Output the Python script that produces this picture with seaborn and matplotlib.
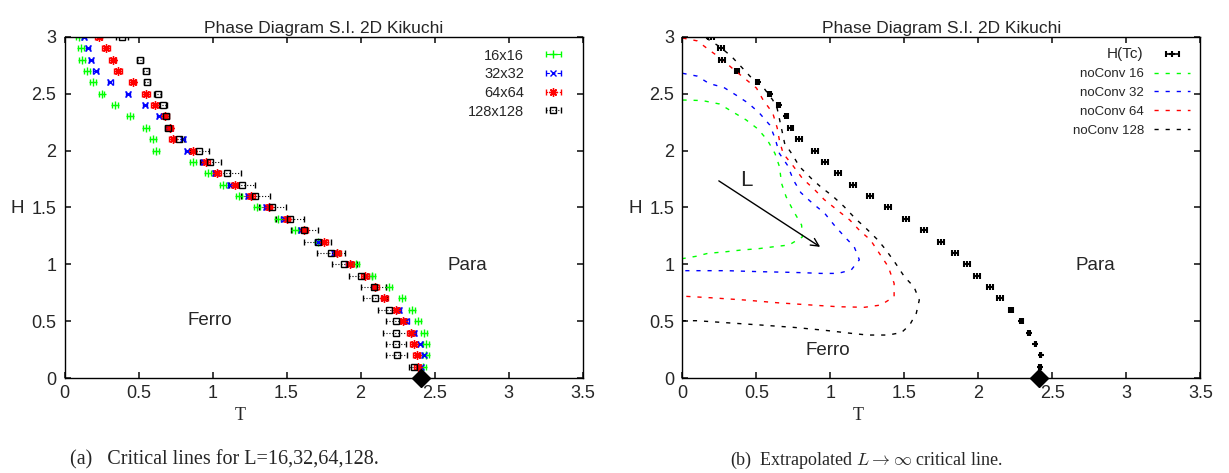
import numpy as np
import seaborn as sns
import matplotlib.pyplot as plt

# Campos H donde se han medido los puntos criticos (de 3.0 a 0.1)
H = [3.0, 2.9, 2.8, 2.7, 2.6, 2.5, 2.4, 2.3, 2.2, 2.1, 2.0, 1.9, 1.8, 1.7, 1.6,
     1.5, 1.4, 1.3, 1.2, 1.1, 1.0, 0.9, 0.8, 0.7, 0.6, 0.5, 0.4, 0.3, 0.2, 0.1]

# Panel (a): temperatura critica para cada tamano de red
tc_16 = [0.10, 0.11, 0.12, 0.15, 0.19, 0.25, 0.34, 0.44, 0.55, 0.60, 0.62, 0.865,
         0.97, 1.07, 1.18, 1.30, 1.44, 1.56, 1.71, 1.84, 1.97, 2.08, 2.19, 2.28,
         2.35, 2.39, 2.43, 2.44, 2.44, 2.42]
tc_32 = [0.13, 0.16, 0.18, 0.21, 0.31, 0.43, 0.545, 0.64, 0.71, 0.80, 0.83, 0.94,
         1.02, 1.12, 1.24, 1.36, 1.48, 1.60, 1.71, 1.82, 1.92, 2.03, 2.09, 2.16,
         2.26, 2.31, 2.36, 2.40, 2.43, 2.41]
tc_64 = [0.23, 0.28, 0.325, 0.36, 0.46, 0.55, 0.61, 0.68, 0.71, 0.73, 0.865, 0.955,
         1.03, 1.15, 1.26, 1.38, 1.50, 1.62, 1.755, 1.84, 1.93, 2.03, 2.10, 2.16,
         2.24, 2.29, 2.34, 2.36, 2.38, 2.385]
tc_128 = [0.39, np.nan, 0.51, 0.55, 0.56, 0.63, 0.665, 0.685, 0.70, 0.775, 0.91,
          0.985, 1.10, 1.20, 1.29, 1.405, 1.525, 1.62, 1.71, 1.80, 1.89, 2.00, 2.09,
          2.10, 2.19, 2.24, 2.24, 2.24, 2.245, 2.36]
err_16 = 0.02
err_32 = 0.015
err_64 = 0.025
err_128 = [0.04, np.nan, 0.02, 0.02, 0.02, 0.025, 0.025, 0.02, 0.02, 0.035, 0.065,
           0.07, 0.09, 0.09, 0.095, 0.09, 0.095, 0.09, 0.09, 0.095, 0.085, 0.08,
           0.085, 0.08, 0.07, 0.07, 0.085, 0.07, 0.07, 0.03]

# Panel (b): linea critica extrapolada H(Tc)
tc_inf = [0.19, 0.26, 0.27, 0.37, 0.51, 0.59, 0.65, 0.70, 0.73, 0.79, 0.895, 0.965,
          1.05, 1.155, 1.27, 1.39, 1.51, 1.63, 1.745, 1.84, 1.92, 1.99, 2.075, 2.145,
          2.22, 2.29, 2.34, 2.385, 2.42, 2.415]
err_inf = [0.02, 0.02, 0.02, 0.015, 0.01, 0.01, 0.01, 0.01, 0.015, 0.02, 0.02, 0.02,
           0.02, 0.02, 0.02, 0.02, 0.02, 0.02, 0.02, 0.02, 0.02, 0.02, 0.02, 0.02,
           0.015, 0.01, 0.005, 0.005, 0.005, 0.005]

# Lineas de no convergencia (T, H)
nc16_T = [0.0, 0.135, 0.25, 0.34, 0.43, 0.51, 0.575, 0.625, 0.655, 0.67, 0.70, 0.745,
          0.805, 0.81, 0.72, 0.62, 0.51, 0.40, 0.29, 0.17, 0.09, 0.0]
nc16_H = [2.445, 2.44, 2.41, 2.34, 2.27, 2.19, 2.09, 1.975, 1.86, 1.71, 1.595, 1.48,
          1.345, 1.24, 1.17, 1.155, 1.137, 1.126, 1.11, 1.096, 1.07, 1.05]
nc32_T = [0.0, 0.10, 0.18, 0.28, 0.36, 0.446, 0.52, 0.59, 0.625, 0.655, 0.71, 0.75,
          0.80, 0.88, 0.96, 1.025, 1.095, 1.16, 1.195, 1.14, 1.05, 0.935, 0.82, 0.71,
          0.53, 0.30, 0.10, 0.0]
nc32_H = [2.68, 2.655, 2.59, 2.555, 2.49, 2.416, 2.33, 2.225, 2.11, 1.975, 1.87, 1.74,
          1.63, 1.535, 1.45, 1.345, 1.243, 1.155, 1.04, 0.95, 0.92, 0.92, 0.926, 0.93,
          0.935, 0.944, 0.944, 0.944]
nc64_T = [0.0, 0.10, 0.18, 0.26, 0.34, 0.42, 0.50, 0.545, 0.61, 0.64, 0.655, 0.68,
          0.745, 0.81, 0.89, 0.957, 1.045, 1.13, 1.195, 1.27, 1.33, 1.39, 1.43, 1.43,
          1.34, 1.23, 1.05, 0.87, 0.64, 0.42, 0.19, 0.0]
nc64_H = [2.99, 2.965, 2.885, 2.81, 2.72, 2.635, 2.55, 2.445, 2.33, 2.20, 2.09, 1.975,
          1.87, 1.756, 1.66, 1.57, 1.478, 1.39, 1.30, 1.214, 1.097, 0.98, 0.833, 0.715,
          0.642, 0.622, 0.627, 0.642, 0.662, 0.686, 0.706, 0.72]
nc128_T = [0.16, 0.25, 0.33, 0.395, 0.47, 0.55, 0.61, 0.64, 0.665, 0.69, 0.745, 0.79,
           0.87, 0.935, 1.015, 1.09, 1.17, 1.24, 1.32, 1.375, 1.44, 1.50, 1.565, 1.60,
           1.58, 1.535, 1.48, 1.39, 1.25, 1.14, 0.96, 0.755, 0.53, 0.30, 0.10, 0.0]
nc128_H = [2.99, 2.915, 2.83, 2.74, 2.635, 2.55, 2.445, 2.37, 2.22, 2.065, 1.96, 1.86,
           1.756, 1.68, 1.60, 1.51, 1.40, 1.317, 1.214, 1.126, 1.008, 0.89, 0.80, 0.686,
           0.57, 0.466, 0.40, 0.378, 0.378, 0.393, 0.42, 0.445, 0.466, 0.486, 0.504, 0.504]

# Punto critico a campo nulo
tc_cero = [2.41]
h_cero = [0.0]

sns.set_theme(style="ticks")
plt.rcParams["font.family"] = ["Liberation Sans", "DejaVu Sans"]
plt.rcParams["mathtext.fontset"] = "cm"
plt.rcParams["xtick.direction"] = "in"
plt.rcParams["ytick.direction"] = "in"
plt.rcParams["xtick.top"] = True
plt.rcParams["ytick.right"] = True
plt.rcParams["xtick.major.size"] = 4
plt.rcParams["ytick.major.size"] = 4
plt.rcParams["xtick.major.pad"] = 5
plt.rcParams["ytick.major.pad"] = 6
plt.rcParams["xtick.labelsize"] = 13
plt.rcParams["ytick.labelsize"] = 13
plt.rcParams["axes.edgecolor"] = "black"
plt.rcParams["axes.linewidth"] = 1.0

fig = plt.figure(figsize=(12.29, 4.73), dpi=100)
ax1 = fig.add_axes([0.0525, 0.2008, 0.4215, 0.7212])
ax2 = fig.add_axes([0.5553, 0.2008, 0.4215, 0.7212])


def puntos(ax, tc, err, color, marker, estilo, etiqueta, ms=6):
    eb = ax.errorbar(tc, H, xerr=err, fmt="", marker=marker, linestyle="none",
                     color=color, ms=ms, mew=1.0,
                     mfc="none" if marker == "s" else color,
                     elinewidth=0.8, capsize=2, capthick=0.8, label=etiqueta)
    eb[2][0].set_linestyle(estilo)
    return eb


puntos(ax1, tc_16, err_16, "#00ff00", "+", "-", "16x16")
puntos(ax1, tc_32, err_32, "#0000ff", "x", (0, (3, 2)), "32x32", ms=5)
puntos(ax1, tc_64, err_64, "#ff0000", (8, 2, 0), (0, (1.5, 1.5)), "64x64", ms=6)
puntos(ax1, tc_128, err_128, "black", "s", ":", "128x128", ms=5)

ax1.legend(loc="upper right", frameon=False, markerfirst=False, fontsize=10.5,
           handlelength=2.4, handletextpad=0.8, labelspacing=0.32,
           borderaxespad=0.4)

# Panel (b)
eb = ax2.errorbar(tc_inf, H, xerr=err_inf, fmt="", marker="+", linestyle="none",
                  color="black", ms=5, mew=1.5,
                  elinewidth=1.2, capsize=2, capthick=1.2, label="H(Tc)")

curvas = [(nc16_T, nc16_H, "#00ff00", "noConv 16"),
          (nc32_T, nc32_H, "#0000ff", "noConv 32"),
          (nc64_T, nc64_H, "#ff0000", "noConv 64"),
          (nc128_T, nc128_H, "black", "noConv 128")]
for t, h, c, nombre in curvas:
    sns.lineplot(x=t, y=h, ax=ax2, sort=False, estimator=None, color=c,
                 linewidth=1.0, linestyle=(0, (3, 5)), label=nombre)

handles, labels = ax2.get_legend_handles_labels()
orden = [labels.index("H(Tc)")] + [i for i, l in enumerate(labels) if l != "H(Tc)"]
ley = ax2.legend([handles[i] for i in orden], [labels[i] for i in orden],
                 loc="upper right", frameon=False, markerfirst=False, fontsize=9.5,
                 handlelength=2.7, handletextpad=0.8, labelspacing=0.5,
                 borderaxespad=0.4)
ley.get_texts()[0].set_fontsize(11)

# Flecha de tamano creciente
ax2.annotate("", xy=(0.946, 1.14), xytext=(0.23, 1.747),
             arrowprops=dict(arrowstyle="->", color="black", lw=1.0,
                             mutation_scale=14))
ax2.text(0.43, 1.74, "L", fontsize=16, ha="center", va="center")

for ax in (ax1, ax2):
    ax.plot(tc_cero, h_cero, marker="D", color="black", ms=9, ls="none",
            clip_on=False, zorder=10)
    ax.set_xlim(0, 3.5)
    ax.set_ylim(0, 3)
    ax.set_xticks(np.arange(0, 3.51, 0.5))
    ax.set_yticks(np.arange(0, 3.01, 0.5))
    ax.set_xticklabels(["0", "0.5", "1", "1.5", "2", "2.5", "3", "3.5"])
    ax.set_yticklabels(["0", "0.5", "1", "1.5", "2", "2.5", "3"])
    ax.set_title("Phase Diagram S.I. 2D Kikuchi", fontsize=12.5, pad=3)
    ax.set_xlabel("T", family="Liberation Serif", fontsize=13)
    ax.set_ylabel("H", fontsize=13.5, rotation=0)
    ax.xaxis.set_label_coords(0.34, -0.085)
    ax.yaxis.set_label_coords(-0.092, 0.497)
    ax.yaxis.label.set_verticalalignment("center")

ax1.text(2.72, 0.99, "Para", fontsize=13.5, ha="center", va="center")
ax1.text(0.98, 0.51, "Ferro", fontsize=13.5, ha="center", va="center")
ax2.text(2.79, 0.99, "Para", fontsize=13.5, ha="center", va="center")
ax2.text(0.98, 0.246, "Ferro", fontsize=13.5, ha="center", va="center")

fig.text(0.183, 0.027, "(a)   Critical lines for L=16,32,64,128.",
         family="Liberation Serif", fontsize=14.5, ha="center", va="center")
fig.text(0.705, 0.027, r"(b)  Extrapolated $L \rightarrow \infty$ critical line.",
         family="Liberation Serif", fontsize=13, ha="center", va="center")

plt.savefig("out.png", dpi=100)
